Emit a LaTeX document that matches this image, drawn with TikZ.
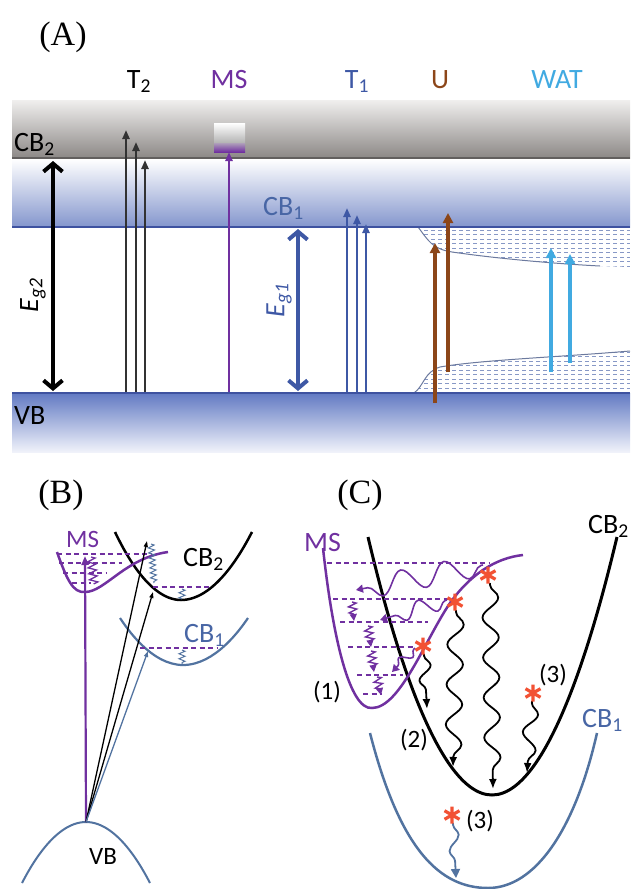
\documentclass[tikz,border=0pt]{standalone}
\usepackage{fontspec}
\setmainfont{Liberation Serif}
\setsansfont{Carlito}
\usetikzlibrary{arrows.meta,decorations.pathmorphing,calc}
\definecolor{msviolet}{RGB}{112,48,160}
\definecolor{tblue}{RGB}{62,88,165}
\definecolor{cbblue}{RGB}{72,102,165}
\definecolor{curveblue}{RGB}{82,115,160}
\definecolor{ubrown}{RGB}{140,70,25}
\definecolor{watblue}{RGB}{65,170,225}
\definecolor{hotred}{RGB}{242,82,52}
\definecolor{dotblue}{RGB}{135,152,198}
\definecolor{tgray}{RGB}{50,50,50}
\definecolor{graytop}{RGB}{240,239,238}
\definecolor{graybot}{RGB}{140,136,134}
\definecolor{bandblue}{RGB}{132,150,205}
\definecolor{bandline}{RGB}{62,82,160}
\definecolor{vbtop}{RGB}{98,122,195}
\definecolor{vbbot}{RGB}{240,242,250}

\begin{document}
\begin{tikzpicture}[
  x=1pt, y=-1pt,
  lbl/.style={font=\sffamily\fontsize{28}{32}\selectfont, inner sep=0pt},
  smalllbl/.style={font=\sffamily\fontsize{25}{28}\selectfont, inner sep=0pt},
  panel/.style={font=\rmfamily\fontsize{34}{38}\selectfont, inner sep=0pt},
  gaparrow/.style={line width=4pt, {Straight Barb[length=8pt,width=19pt]}-{Straight Barb[length=8pt,width=19pt]}},
  exc/.style={line width=2.2pt, -{Triangle[length=9pt,width=7pt]}},
  wide/.style={line width=3.5pt, -{Triangle[length=10pt,width=10pt]}},
  thinexc/.style={line width=1.3pt, -{Triangle[length=6pt,width=4pt]}},
  level/.style={msviolet, line width=1.2pt, dash pattern=on 5pt off 3.5pt},
  dots/.style={dotblue, line width=0.75pt, dash pattern=on 4pt off 3pt},
  bwave/.style={decorate, decoration={snake, amplitude=8pt, segment length=40pt, pre length=2pt, post length=9pt},
    line width=1.8pt, -{Latex[length=10pt,width=8pt]}},
  pwave/.style={decorate, decoration={snake, amplitude=#1, segment length=4*#1, pre length=2pt, post length=6pt},
    msviolet, line width=1.6pt, -{Triangle[length=7pt,width=8pt]}},
  pzig/.style={decorate, decoration={zigzag, amplitude=4pt, segment length=6pt, post length=6pt},
    msviolet, line width=1.4pt, -{Triangle[length=7pt,width=7pt]}},
  bzig/.style={decorate, decoration={zigzag, amplitude=3pt, segment length=5pt}, curveblue, line width=1pt},
  hot/.pic={\draw[hotred, line width=3.2pt] (0,-8.5) -- (0,8.5) (-7.5,-4.3) -- (7.5,4.3) (-7.5,4.3) -- (7.5,-4.3);}
]
\useasboundingbox (0,0) rectangle (630,889);

% panel A: bands
\shade[top color=graytop, bottom color=graybot] (12,100) rectangle (630,158);
\draw[graybot!70!black, line width=1.5pt] (12,158) -- (630,158);
\shade[top color=white, bottom color=bandblue] (12,159) rectangle (630,227);
\shade[top color=vbtop, bottom color=vbbot] (12,393) rectangle (630,452);

% doped states
\begin{scope}
  \clip (418,227) .. controls (428,240) and (432,249) .. (452,252) .. controls (500,259) and (560,264) .. (600,266)
    -- (630,267) -- (630,227) -- cycle;
  \foreach \yy in {230,234.5,...,268} \draw[dots] (410,\yy) -- (630,\yy);
\end{scope}
\begin{scope}
  \clip (414,393) .. controls (424,386) and (424,372) .. (440,367) .. controls (480,360) and (560,357) .. (630,351)
    -- (630,393) -- cycle;
  \foreach \yy in {352,356.5,...,393} \draw[dots] (410,\yy) -- (630,\yy);
\end{scope}
\draw[dotblue!80!black, line width=1pt] (418,227) .. controls (428,240) and (432,249) .. (452,252)
  .. controls (500,259) and (560,264) .. (600,266);
\draw[dotblue!80!black, line width=1pt] (414,393) .. controls (424,386) and (424,372) .. (440,367)
  .. controls (480,360) and (560,357) .. (630,351);
\draw[bandline, line width=2pt] (12,227) -- (630,227);
\draw[bandline, line width=2pt] (12,393) -- (630,393);

% MS level
\shade[top color=white, bottom color=gray!60] (214,123) rectangle (245,143);
\shade[top color=gray!60!msviolet!60, bottom color=msviolet] (214,143) rectangle (245,152);

\node[lbl, anchor=base west] (cb2) at (14,151) {CB\textsubscript{2}};
\node[lbl, anchor=base west] (vb) at (14,424) {VB};
\node[lbl, cbblue, anchor=base west] (cb1) at (263,215) {CB\textsubscript{1}};
\node[lbl, anchor=base] (t2) at (139,88) {T\textsubscript{2}};
\node[lbl, msviolet, anchor=base] (ms) at (229,88) {MS};
\node[lbl, tblue, anchor=base] (t1) at (357,88) {T\textsubscript{1}};
\node[lbl, ubrown, anchor=base] (u) at (440,88) {U};
\node[lbl, watblue, anchor=base] (wat) at (557,88) {WAT};
\node[panel] (pa) at (63,37) {(A)};

\coordinate (g2lo) at (53,391);
\coordinate (g2hi) at (53,161);
\draw[gaparrow] (g2lo) -- (g2hi);
\node[lbl, rotate=90] (eg2) at (33,295) {\textit{E}\textsubscript{\textit{g2}}};
\coordinate (g1lo) at (298,391);
\coordinate (g1hi) at (298,229);
\draw[gaparrow, tblue] (g1lo) -- (g1hi);
\node[lbl, tblue, rotate=90] (eg1) at (279,300) {\textit{E}\textsubscript{\textit{g1}}};

\foreach \i/\x/\t in {1/126/130, 2/136/142, 3/145/160} {
  \coordinate (t2lo\i) at (\x,392);
  \coordinate (t2hi\i) at (\x,\t);
  \draw[exc, tgray] (t2lo\i) -- (t2hi\i);
}
\coordinate (mslo) at (229,392);
\coordinate (mshi) at (229,152);
\draw[exc, msviolet] (mslo) -- (mshi);
\foreach \i/\x/\t in {1/347/208, 2/357/215, 3/366/224} {
  \coordinate (t1lo\i) at (\x,392);
  \coordinate (t1hi\i) at (\x,\t);
  \draw[exc, tblue] (t1lo\i) -- (t1hi\i);
}
\foreach \i/\x/\b/\t in {1/435/403/243, 2/448/372/213} {
  \coordinate (ulo\i) at (\x,\b);
  \coordinate (uhi\i) at (\x,\t);
  \draw[wide, ubrown] (ulo\i) -- (uhi\i);
}
\foreach \i/\x/\b/\t in {1/551/372/248, 2/570/363/254} {
  \coordinate (wlo\i) at (\x,\b);
  \coordinate (whi\i) at (\x,\t);
  \draw[wide, watblue] (wlo\i) -- (whi\i);
}

% panel B
\node[panel] (pb) at (61,495) {(B)};
\coordinate (vbtopB) at (86,822);
\draw[curveblue, line width=2pt] (22,883) parabola bend (vbtopB) (150,883);
\draw[curveblue, line width=2.2pt] (120,618) parabola bend (183,665) (248,618);
\draw[line width=2.5pt] (115,532) parabola bend (181,600) (252,532);
\draw[msviolet, line width=2.5pt] (57,552) .. controls (67,580) and (73,593) .. (85,592)
  .. controls (105,592) and (125,558) .. (168,552);
\draw[level] (57,554) -- (152,554);
\draw[level] (59,563) -- (122,563);
\draw[level] (63,573) -- (107,573);
\draw[level] (72,583) -- (91,583);
\draw[level] (153,587) -- (210,587);
\draw[level] (140,648) -- (218,648);
\coordinate (msB) at (85,556);
\coordinate (cb2B) at (147,541);
\coordinate (cb2Blo) at (153,592);
\coordinate (cb1B) at (148,651);
\draw[exc, msviolet] (vbtopB) -- (msB);
\draw[thinexc] (vbtopB) -- (cb2B);
\draw[thinexc] (vbtopB) -- (cb2Blo);
\draw[thinexc, curveblue] (vbtopB) -- (cb1B);
\draw[decorate, decoration={zigzag, amplitude=4pt, segment length=6pt}, msviolet, line width=1.3pt] (91,557) -- (94,584);
\draw[bzig] (151,544) -- (154,583);
\draw[bzig] (182,589) -- (182,599);
\draw[bzig] (182,650) -- (182,664);
\node[smalllbl, msviolet, anchor=base west] (msBl) at (66,547) {MS};
\node[lbl, anchor=base west] (cb2Bl) at (183,566) {CB\textsubscript{2}};
\node[lbl, cbblue, anchor=base west] (cb1Bl) at (184,642) {CB\textsubscript{1}};
\node[smalllbl, anchor=base] (vbBl) at (103,864) {VB};

% panel C
\node[panel] (pc) at (360,495) {(C)};
\draw[line width=3pt] (368,537) parabola bend (492,795) (617,537);
\draw[curveblue, line width=2.5pt] (370,733) .. controls (400,850) and (440,888) .. (488,888)
  .. controls (535,888) and (575,830) .. (597,733);
\draw[msviolet, line width=2.5pt] (323,548) .. controls (333,640) and (350,710) .. (372,708)
  .. controls (400,708) and (425,640) .. (450,603) .. controls (470,575) and (495,558) .. (523,555);
\draw[level] (327,563) -- (490,563);
\draw[level] (333,599) -- (450,599);
\draw[level] (340,622) -- (428,622);
\draw[level] (348,647) -- (413,647);
\draw[level] (357,675) -- (403,675);
\draw[level] (363,694) -- (382,694);

\coordinate (hs1) at (488,575);
\coordinate (hs2) at (455,602);
\coordinate (hs3) at (423,646);
\coordinate (hs4) at (533,693);
\coordinate (hs5) at (452,815);

% relaxation into the MS well
\coordinate (pa1) at (356,590);
\coordinate (pa2) at (380,620);
\coordinate (pa3) at (392,672);
\draw[pwave=11pt] ($(hs1)+(-5,-10)$) -- (pa1);
\draw[pwave=8pt] ($(hs2)+(-8,-2)$) -- (pa2);
\draw[pwave=5pt] ($(hs3)+(-8,2)$) -- (pa3);
\draw[pzig] (352,602) -- (354,621);
\draw[pzig] (368,626) -- (371,647);
\draw[pzig] (371,651) -- (374,672);
\draw[pzig] (377,677) -- (381,695);

% relaxation into CB2 and CB1
\coordinate (cw1) at (493,789);
\coordinate (cw2) at (453,767);
\coordinate (cw3) at (427,709);
\coordinate (cw4) at (527,773);
\coordinate (cw5) at (456,878);
\draw[bwave] ($(hs1)+(2,8)$) -- (cw1);
\draw[bwave] ($(hs2)+(1,8)$) -- (cw2);
\draw[bwave, decoration={segment length=30pt, amplitude=6pt}] ($(hs3)+(1,8)$) -- (cw3);
\draw[bwave, decoration={segment length=36pt, amplitude=7pt}] ($(hs4)+(-1,8)$) -- (cw4);
\draw[decorate, decoration={snake, amplitude=5pt, segment length=32pt, pre length=2pt, post length=9pt},
  curveblue, line width=1.8pt, -{Triangle[length=9pt,width=9pt]}] ($(hs5)+(1,8)$) -- (cw5);

\foreach \s in {hs1,hs2,hs3,hs4,hs5} \pic at (\s) {hot};

\node[lbl, msviolet, anchor=base west] (msCl) at (304,551) {MS};
\node[lbl, anchor=base west] (cb2Cl) at (588,533) {CB\textsubscript{2}};
\node[lbl, cbblue, anchor=base west] (cb1Cl) at (582,727) {CB\textsubscript{1}};
\node[smalllbl] (n1) at (327,692) {(1)};
\node[smalllbl] (n2) at (414,740) {(2)};
\node[smalllbl] (n3a) at (553,675) {(3)};
\node[smalllbl] (n3b) at (480,821) {(3)};
\end{tikzpicture}
\end{document}
